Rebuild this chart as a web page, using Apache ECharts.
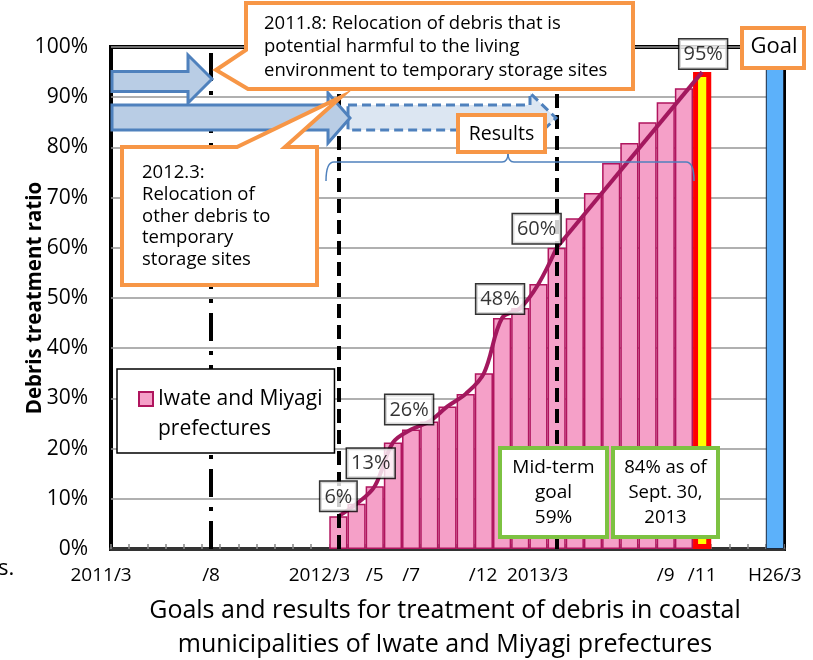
<!DOCTYPE html>
<html><head><meta charset="utf-8">
<script src="https://cdn.jsdelivr.net/npm/echarts@6/dist/echarts.min.js"></script>
<style>html,body{margin:0;padding:0;background:#fff}#c{width:813px;height:660px}</style>
</head><body><div id="c"></div>
<script>
// ---------------- DATA ----------------
const months = ['2011/3','2011/4','2011/5','2011/6','2011/7','2011/8','2011/9','2011/10','2011/11','2011/12',
  '2012/1','2012/2','2012/3','2012/4','2012/5','2012/6','2012/7','2012/8','2012/9','2012/10','2012/11','2012/12',
  '2013/1','2013/2','2013/3','2013/4','2013/5','2013/6','2013/7','2013/8','2013/9','2013/10','2013/11','2013/12',
  '2014/1','2014/2','2014/3'];
const resultMonths = ['2012/3','2012/4','2012/5','2012/6','2012/7','2012/8','2012/9','2012/10','2012/11','2012/12',
  '2013/1','2013/2','2013/3','2013/4','2013/5','2013/6','2013/7','2013/8','2013/9','2013/10'];
const resultValues = [6.5, 9.0, 12.5, 21.2, 23.8, 25.4, 28.4, 30.9, 35.0, 46.0,
  48.0, 52.8, 60.0, 65.9, 70.9, 76.9, 80.9, 85.0, 89.0, 91.8];
const lineEndMonth = '2013/3';          // measured line ends here, then projection
const currentMonth = '2013/11';
const currentValue = 95;
const goalMonth = '2014/3';
const goalValue = 100;
const labelMonths = ['2012/3','2012/5','2012/7','2012/12','2013/3','2013/11'];
const labelTexts  = ['6%','13%','26%','48%','60%','95%'];
const tickMonths = ['2011/3','2011/8','2012/3','2012/5','2012/7','2012/12','2013/3','2013/9','2013/11','2014/3'];
const tickTexts  = ['2011/3','/8','2012/3','/5','/7','/12','2013/3','/9','/11','H26/3'];
const refLineMonths = ['2011/8','2012/3','2013/3'];
const yTicks = [0,10,20,30,40,50,60,70,80,90,100];
const seriesName = 'Iwate and Miyagi prefectures';

// ---------------- BUILD ----------------
const FONT = 'Open Sans';
const valueAt = m => {
  const i = resultMonths.indexOf(m);
  if (i >= 0) return resultValues[i];
  if (m === currentMonth) return currentValue;
  if (m === goalMonth) return goalValue;
  return null;
};
const resultData = months.map(m => { const i = resultMonths.indexOf(m); return i >= 0 ? resultValues[i] : null; });
const currentData = months.map(m => m === currentMonth ? currentValue : null);
const goalData = months.map(m => m === goalMonth ? goalValue : null);
const endIdx = resultMonths.indexOf(lineEndMonth);
const lineData = resultMonths.slice(0, endIdx + 1).map((m, i) => [m, resultValues[i]]);
const projData = [[lineEndMonth, resultValues[endIdx]], [currentMonth, currentValue]];

const labelOffsets = [[0, 5], [-4, 8], [-2, 5], [-2, 4], [-20, 4], [1, 3]]; // [dx, distance]
const annData = labelMonths.map((m, i) => ({
  value: [m, valueAt(m)],
  label: { offset: [labelOffsets[i][0], 0], distance: labelOffsets[i][1] }
}));

const shifted = ['2011/3', '2012/3', '2013/3', '/12'];
const refStyles = [[28, 10, 4, 10], [14, 7], [14, 7]];

const chart = echarts.init(document.getElementById('c'), null, { renderer: 'canvas' });

const ORANGE = '#F79646', GREEN = '#7DC242', BLUE = '#4F81BD';
const txt = (text, x, y, size, opts) => ({
  type: 'text', z: 30,
  style: Object.assign({ text, x, y, fontSize: size, fontFamily: FONT, fill: '#000', textAlign: 'left', textVerticalAlign: 'top' }, opts || {})
});
const braceStyle = { fill: 'none', stroke: BLUE, lineWidth: 1.5 };
const bz = (x1, y1, cx, cy, x2, y2) => ({ type: 'bezierCurve', z: 22, shape: { x1, y1, x2, y2, cpx1: cx, cpy1: cy }, style: braceStyle });
const ln = (x1, y1, x2, y2) => ({ type: 'line', z: 22, shape: { x1, y1, x2, y2 }, style: braceStyle });

const option = {
  animation: false,
  textStyle: { fontFamily: FONT },
  grid: { left: 111, right: 29, top: 47, bottom: 111, outerBoundsMode: 'none', containLabel: false,
          show: true, borderColor: '#000', borderWidth: 4, backgroundColor: 'transparent' },
  legend: {
    data: [seriesName], left: 117, top: 369, orient: 'vertical',
    backgroundColor: '#fff', borderColor: '#000', borderWidth: 1.5,
    padding: [15, 12, 9, 21], itemWidth: 14, itemHeight: 44,
    icon: 'path://M0,0H14V14H0ZM0,44',
    formatter: () => 'Iwate and Miyagi\nprefectures',
    textStyle: { fontSize: 21, lineHeight: 30, color: '#000', fontFamily: FONT },
    z: 20
  },
  xAxis: {
    type: 'category', data: months, boundaryGap: true,
    axisLine: { lineStyle: { color: '#333', width: 4 } },
    axisTick: { show: true, inside: true, length: 5, interval: 0, lineStyle: { color: '#888', width: 1.5 } },
    axisLabel: {
      interval: 0, margin: 17, color: '#000', fontSize: 19, fontFamily: FONT,
      formatter: (v) => {
        const i = tickMonths.indexOf(v);
        if (i < 0) return '';
        const t = tickTexts[i];
        return shifted.includes(t) ? '{l|' + t + '}' : '{c|' + t + '}';
      },
      rich: {
        l: { fontSize: 19, fontFamily: FONT, color: '#000', padding: [0, 38, 0, 0] },
        c: { fontSize: 19, fontFamily: FONT, color: '#000' }
      }
    },
    splitLine: { show: false }
  },
  yAxis: {
    type: 'value', min: 0, max: 100, interval: 10,
    name: 'Debris treatment ratio', nameLocation: 'middle', nameRotate: 90, nameGap: 65, nameMoveOverlap: false,
    nameTextStyle: { fontSize: 20.5, fontWeight: 'bold', color: '#000', fontFamily: FONT },
    axisLine: { show: false }, axisTick: { show: false },
    axisLabel: { margin: 23, fontSize: 21, color: '#000', fontFamily: FONT, formatter: v => yTicks.includes(v) ? v + '%' : '' },
    splitLine: { lineStyle: { color: '#969696', width: 1.5 } }
  },
  series: [
    {
      name: seriesName, type: 'bar', data: resultData, barCategoryGap: '0%', barGap: '-100%', z: 2,
      itemStyle: { color: '#F5A0C8', borderColor: '#B0155E', borderWidth: 1.5 }
    },
    {
      name: 'current', type: 'bar', data: currentData, barCategoryGap: '0%', barGap: '-100%', z: 2,
      itemStyle: { color: '#FFFF00', borderColor: '#FF0000', borderWidth: 5 }
    },
    {
      name: 'goal', type: 'bar', data: goalData, barCategoryGap: '0%', barGap: '-100%', z: 2,
      itemStyle: { color: '#5CB1FA', borderColor: '#1a2a40', borderWidth: 1 }
    },
    {
      name: 'refLines', type: 'line', data: [], z: 3, silent: true,
      markLine: {
        silent: true, symbol: ['none', 'none'], label: { show: false },
        data: refLineMonths.map((m, i) => ({ xAxis: m, lineStyle: { type: refStyles[i], color: '#000', width: 4 } }))
      }
    },
    {
      name: 'trend', type: 'line', data: lineData, smooth: 0.35, symbol: 'none', z: 4,
      lineStyle: { color: '#A3185E', width: 4 }
    },
    {
      name: 'projection', type: 'line', data: projData, symbol: 'none', z: 4,
      lineStyle: { color: '#A3185E', width: 4 }
    },
    {
      name: 'labels', type: 'scatter', data: annData, symbolSize: 1, z: 12,
      itemStyle: { color: 'rgba(0,0,0,0)' },
      label: {
        show: true, position: 'top', formatter: p => labelTexts[p.dataIndex],
        backgroundColor: '#fff', borderColor: '#000', borderWidth: 1.5,
        padding: [5, 4, 4, 4], fontSize: 20, color: '#000', fontFamily: FONT
      }
    }
  ],
  graphic: [
    // dashed (planned) arrow
    { type: 'polygon', z: 20, shape: { points: [[348,105],[530,105],[530,93],[556,118],[530,143],[530,130],[348,130]] },
      style: { fill: '#DCE6F2', stroke: BLUE, lineWidth: 3, lineDash: [9, 5] } },
    // solid arrows
    { type: 'polygon', z: 21, shape: { points: [[112,71.5],[188,71.5],[188,55],[212,79],[188,103],[188,91.5],[112,91.5]] },
      style: { fill: '#B9CDE5', stroke: BLUE, lineWidth: 3 } },
    { type: 'polygon', z: 21, shape: { points: [[112,105],[328,105],[328,93],[350,118],[328,143],[328,130],[112,130]] },
      style: { fill: '#B9CDE5', stroke: BLUE, lineWidth: 3 } },
    // brace
    bz(326, 181, 326, 162, 334, 162),
    ln(334, 162, 502, 162),
    bz(502, 162, 508, 162, 508, 153),
    bz(508, 153, 508, 162, 514, 162),
    ln(514, 162, 686, 162),
    bz(686, 162, 694, 162, 694, 181),
    // callout 1
    { type: 'polygon', z: 25, shape: { points: [[246,3],[633,3],[633,89],[248,89],[216,70],[246,50]] },
      style: { fill: '#fff', stroke: ORANGE, lineWidth: 4, lineJoin: 'miter' } },
    txt('2011.8: Relocation of debris that is\npotential harmful to the living\nenvironment to temporary storage sites', 264, 11.5, 18.5, { lineHeight: 23.5 }),
    // callout 2
    { type: 'polygon', z: 25, shape: { points: [[122,147],[237,147],[341,97],[285,147],[317,147],[317,285],[122,285]] },
      style: { fill: '#fff', stroke: ORANGE, lineWidth: 4, lineJoin: 'miter' } },
    txt('2012.3:\nRelocation of\nother debris to\ntemporary\nstorage sites', 142, 162, 18.5, { lineHeight: 21.7 }),
    // Results box
    { type: 'rect', z: 25, shape: { x: 458, y: 115, width: 87, height: 37 }, style: { fill: '#fff', stroke: ORANGE, lineWidth: 4 } },
    txt('Results', 501.5, 134, 19.5, { textAlign: 'center', textVerticalAlign: 'middle' }),
    // Goal box
    { type: 'rect', z: 25, shape: { x: 742, y: 28, width: 62, height: 40 }, style: { fill: '#fff', stroke: ORANGE, lineWidth: 4 } },
    txt('Goal', 774, 47, 22, { textAlign: 'center', textVerticalAlign: 'middle' }),
    // green boxes
    { type: 'rect', z: 25, shape: { x: 500, y: 448, width: 107, height: 89 }, style: { fill: '#fff', stroke: GREEN, lineWidth: 4 } },
    txt('Mid-term\ngoal\n59%', 553.5, 455.5, 19, { textAlign: 'center', lineHeight: 25 }),
    { type: 'rect', z: 25, shape: { x: 613, y: 448, width: 105, height: 89 }, style: { fill: '#fff', stroke: GREEN, lineWidth: 4 } },
    txt('84% as of\nSept. 30,\n2013', 665.5, 455.5, 18.5, { textAlign: 'center', lineHeight: 25 }),
    // caption
    txt('Goals and results for treatment of debris in coastal\nmunicipalities of Iwate and Miyagi prefectures', 445, 594, 25, { textAlign: 'center', lineHeight: 34 }),
    txt('s.', -2, 558, 22, {})
  ]
};
chart.setOption(option);
</script>
</body></html>
